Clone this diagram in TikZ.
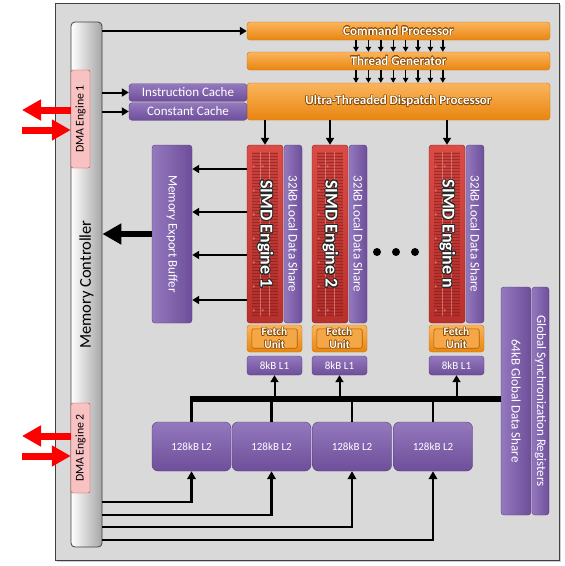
\documentclass[tikz,border=0pt]{standalone}
\usepackage{fontspec}
\setmainfont{Carlito}
\usepackage{contour}
\contourlength{0.5pt}
\usetikzlibrary{arrows.meta,shadows}
\definecolor{org1}{HTML}{FBB45C}
\definecolor{org2}{HTML}{E88610}
\definecolor{orgb}{HTML}{C8730C}
\definecolor{orgt}{HTML}{8A4A00}
\definecolor{pur1}{HTML}{9479BE}
\definecolor{pur2}{HTML}{6E4E9A}
\definecolor{purb}{HTML}{583C80}
\definecolor{red1}{HTML}{DC4C47}
\definecolor{red2}{HTML}{B8302C}
\definecolor{redb}{HTML}{7E1C1A}
\definecolor{panelbg}{HTML}{D9D9D9}
\definecolor{dmafill}{HTML}{F9C2C2}
\definecolor{dmab}{HTML}{C04040}
\begin{document}
\begin{tikzpicture}[x=1pt,y=-1pt,
  box/.style={rounded corners=3pt, inner sep=0pt, align=center},
  orangebox/.style={box, draw=orgb, top color=org1, bottom color=org2, text=white,
     font=\bfseries\fontsize{13}{15}\selectfont},
  purplebox/.style={box, draw=purb, top color=pur1, bottom color=pur2, text=white,
     font=\fontsize{13}{15}\selectfont},
  purplev/.style={box, draw=purb, left color=pur1, right color=pur2, text=white,
     font=\fontsize{13}{15}\selectfont},
  simdbox/.style={box, draw=redb, top color=red1, bottom color=red2},
  simdtext/.style={text=white, font=\bfseries\fontsize{18}{20}\selectfont},
  fetchtext/.style={text=white, align=center, font=\bfseries\fontsize{11.5}{12.5}\selectfont},
  dmabox/.style={box, rounded corners=2pt, draw=dmab, fill=dmafill, text=black,
     font=\fontsize{11.8}{13}\selectfont},
  arr/.style={draw=black, line width=2pt, -{Triangle[length=7pt,width=8pt]}},
  arrs/.style={draw=black, line width=1.4pt, -{Triangle[length=5pt,width=5.5pt]}},
  arrb/.style={draw=black, line width=2.6pt, -{Triangle[length=8pt,width=8.5pt]}},
  bigarr/.style={draw=black, line width=5.5pt, -{Triangle[length=19pt,width=20pt]}},
  redarr/.style={draw=red, line width=7pt, -{Triangle[length=19pt,width=20pt]}},
  bus/.style={draw=black, line width=6pt},
  drop/.style={draw=black, line width=2.5pt},
  dot/.style={circle, fill=black, minimum size=8pt, inner sep=0pt}]
\useasboundingbox (0,0) rectangle (565,566);

% panel
\node[draw=black!75, line width=1pt, fill=panelbg, minimum width=504pt, minimum height=557pt,
      drop shadow={shadow xshift=2pt, shadow yshift=-2pt, opacity=0.4}] (panel) at (307,281.5) {};

% memory controller
\node[box, rounded corners=4pt, draw=black!75, line width=0.8pt, left color=white, right color=black!35,
      minimum width=31pt, minimum height=525pt, font=\fontsize{16.5}{18}\selectfont]
      (mc) at (86.5,284.5) {\rotatebox{90}{Memory Controller}};
\node[dmabox, minimum width=19pt, minimum height=98pt] (dma1) at (80.5,119) {\rotatebox{90}{DMA Engine 1}};
\node[dmabox, minimum width=19pt, minimum height=90pt] (dma2) at (80.5,448) {\rotatebox{90}{DMA Engine 2}};

% red arrows
\coordinate (r1) at (22,110);
\coordinate (r2) at (22,130);
\coordinate (r3) at (22,436);
\coordinate (r4) at (22,456);
\draw[redarr] (dma1.west |- r1) -- (r1);
\draw[redarr] (r2) -- (dma1.west |- r2);
\draw[redarr] (dma2.west |- r3) -- (r3);
\draw[redarr] (r4) -- (dma2.west |- r4);

% orange top blocks
\node[orangebox, minimum width=303pt, minimum height=18pt] (cmd) at (398.5,31) {\contour{orgt}{Command Processor}};
\node[orangebox, minimum width=303pt, minimum height=18pt] (thr) at (398.5,61) {\contour{orgt}{Thread Generator}};
\node[orangebox, minimum width=303pt, minimum height=37pt] (utdp) at (398.5,101.5) {\contour{orgt}{Ultra-Threaded Dispatch Processor}};
\node[purplebox, minimum width=118pt, minimum height=17.5pt] (icache) at (188,92.5) {Instruction Cache};
\node[purplebox, minimum width=118pt, minimum height=17.5pt] (ccache) at (188,111.5) {Constant Cache};

\foreach \x in {356,368.4,380.8,393.2,405.6,418,430.4,442.8} {
  \draw[arrs] (cmd.south -| \x,0) -- (thr.north -| \x,0);
  \draw[arrs] (thr.south -| \x,0) -- (utdp.north -| \x,0);
}
\draw[arr] (mc.east |- cmd.west) -- (cmd.west);
\draw[arr] (mc.east |- icache.west) -- (icache.west);
\draw[arr] (mc.east |- ccache.west) -- (ccache.west);

% memory export buffer
\node[purplev, minimum width=40pt, minimum height=178pt] (meb) at (172,234) {\rotatebox{-90}{Memory Export Buffer}};

% SIMD engines
\foreach \n/\cx/\lbl in {a/265/1, b/330/2, c/447/n} {
  \node[simdbox, minimum width=36pt, minimum height=178pt] (simd\n) at (\cx,234) {};
  \begin{scope}[shift={(simd\n.north west)}]
    \fill[red2!85!black, opacity=0.25] (5,7) rectangle (31,171);
    \foreach \k in {0,...,54} {
      \draw[redb, line width=0.45pt, opacity=0.55] (5,8+\k*3) -- (31,8+\k*3);
    }
    \foreach \k in {0,...,6} {
      \fill[red1!70!white, opacity=0.7] (6,20+\k*24) -- (8.5,21.5+\k*24) -- (6,23+\k*24) -- cycle;
      \fill[red1!70!white, opacity=0.7] (15,20+\k*24) -- (17.5,21.5+\k*24) -- (15,23+\k*24) -- cycle;
    }
    \draw[red1!60!white, line width=0.4pt, opacity=0.6] (13.5,7) -- (13.5,171) (22.5,7) -- (22.5,171);
  \end{scope}
  \node[simdtext] (simdt\n) at (simd\n) {\contourlength{0.9pt}\rotatebox{-90}{\contour{black!85}{SIMD Engine \lbl}}};
  \node[purplev, minimum width=18pt, minimum height=178pt] (lds\n) at (\cx+28,234) {\rotatebox{-90}{32kB Local Data Share}};
  \node[box, draw=orgb, top color=org1, bottom color=org2, minimum width=55pt, minimum height=27pt] (fetch\n) at (\cx+9.5,338.5) {};
  \draw[orgb!85!black, line width=0.6pt, rounded corners=2pt, fill=org1!70!org2]
     ([shift={(5,4)}]fetch\n.north west) rectangle ([shift={(-5,-4)}]fetch\n.south east);
  \node[fetchtext] (fetcht\n) at (fetch\n) {\contour{orgt}{Fetch}\\\contour{orgt}{Unit}};
  \node[purplebox, minimum width=55pt, minimum height=19pt, font=\fontsize{11}{12}\selectfont] (l1\n) at (\cx+9.5,365.5) {8kB L1};
  \draw[arr] (utdp.south -| simd\n.north) -- (simd\n.north);
}

% dots
\node[dot] (d1) at (377,252) {};
\node[dot] (d2) at (396,252) {};
\node[dot] (d3) at (415,252) {};

% SIMD1 -> memory export buffer
\foreach \y in {169,212,255,300} {
  \draw[arr] (simda.west |- 0,\y) -- (meb.east |- 0,\y);
}
\draw[bigarr] (meb.west) -- (mc.east |- meb.west);

% global data share / sync registers
\node[purplev, minimum width=30pt, minimum height=228pt] (gds) at (516,401) {\rotatebox{-90}{64kB Global Data Share}};
\node[purplev, minimum width=17pt, minimum height=228pt] (gsr) at (540.5,401) {\rotatebox{-90}{Global Synchronization Registers}};

% L2 caches
\node[purplebox, rounded corners=6pt, minimum width=79pt, minimum height=49pt, font=\fontsize{11}{12}\selectfont] (l2a) at (191.5,446.5) {128kB L2};
\node[purplebox, rounded corners=6pt, minimum width=79pt, minimum height=49pt, font=\fontsize{11}{12}\selectfont] (l2b) at (271.5,446.5) {128kB L2};
\node[purplebox, rounded corners=6pt, minimum width=79pt, minimum height=49pt, font=\fontsize{11}{12}\selectfont] (l2c) at (352,446.5) {128kB L2};
\node[purplebox, rounded corners=6pt, minimum width=79pt, minimum height=49pt, font=\fontsize{11}{12}\selectfont] (l2d) at (433,446.5) {128kB L2};

% bus
\coordinate (busL) at (190.25,399);
\draw[bus] (busL) -- (gds.west |- busL);
\foreach \n in {a,b,c,d} {
  \draw[drop] (l2\n.north |- busL) -- (l2\n.north);
}
\foreach \n in {a,b,c} {
  \draw[arr] (l1\n.south |- busL) -- (l1\n.south);
}

% memory controller -> L2
\draw[arrb] (mc.east |- 0,502) -| (l2a.south);
\draw[arrb] (mc.east |- 0,515) -| (l2b.south);
\draw[arrb] (mc.east |- 0,527) -| (l2c.south);
\draw[arrb] (mc.east |- 0,540) -| (l2d.south);
\end{tikzpicture}
\end{document}
